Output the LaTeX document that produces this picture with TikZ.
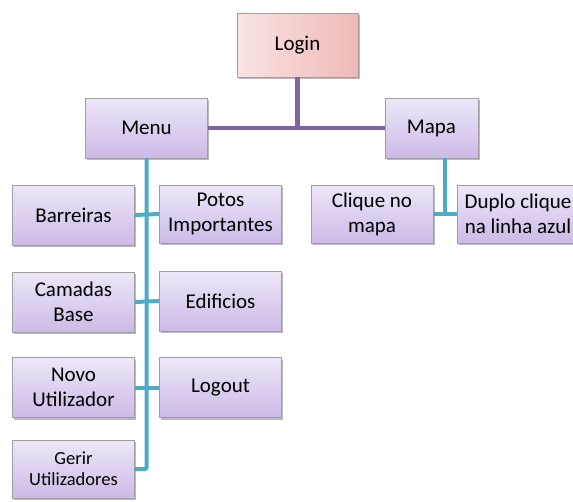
\documentclass[tikz,border=0pt]{standalone}
\usepackage{fontspec}
\setmainfont{Carlito}
\usepackage{xcolor}
\usetikzlibrary{calc,shadows}
\definecolor{menupurple}{HTML}{8064A2}
\definecolor{subteal}{HTML}{4BACC6}
\definecolor{boxtop}{HTML}{EEE7F8}
\definecolor{boxbottom}{HTML}{CCBAE7}
\definecolor{loginleft}{HTML}{FAE4E4}
\definecolor{loginright}{HTML}{F0B8B8}

\begin{document}
\begin{tikzpicture}[
  x=1pt, y=-1pt,
  box/.style={draw=gray!75, line width=0.8pt, align=center, inner sep=0pt,
    minimum width=122pt, minimum height=60pt, top color=boxtop, bottom color=boxbottom,
    drop shadow={shadow xshift=1.5pt, shadow yshift=-2pt, opacity=0.45, fill=black!60},
    font=\fontsize{21}{25}\selectfont},
  rootbox/.style={box, minimum width=121pt, minimum height=64pt, left color=loginleft, right color=loginright},
  mainline/.style={menupurple, line width=4.5pt},
  subline/.style={subteal, line width=4pt, rounded corners=2pt}
]
\useasboundingbox (0,0) rectangle (573,501);

\node[rootbox] (login) at (297.5,45) {Login};
\node[box] (menu) at (146.5,128) {Menu};
\node[box, minimum width=93pt] (mapa) at (431.5,128) {Mapa};

% mapa branch
\node[box, minimum height=58pt] (clique) at (372,214) {Clique no\\mapa};
\node[box, minimum height=58pt] (duplo) at (518,214) {Duplo clique\\na linha azul};

% menu branch
\node[box] (barreiras) at (73.5,215) {Barreiras};
\node[box, minimum height=58pt] (potos) at (220.5,214) {Potos\\Importantes};
\node[box] (camadas) at (73.5,302) {Camadas\\Base};
\node[box] (edificios) at (220.5,301) {Edificios};
\node[box] (novo) at (73.5,387.5) {Novo\\Utilizador};
\node[box] (logout) at (220.5,387.5) {Logout};
\node[box, minimum height=58pt, font=\fontsize{18.5}{21}\selectfont] (gerir) at (73.5,469) {Gerir\\Utilizadores};

\draw[mainline] (login.south) -- (login.south |- menu.east);
\draw[mainline] (menu.east) -- (mapa.west);

\draw[subline] (menu.south) |- (gerir.east);
\draw[subline] (barreiras.east) -- (potos.west);
\draw[subline] (camadas.east) -- (edificios.west);
\draw[subline] (novo.east) -- (logout.west);

\coordinate (mapajoin) at ($(clique.east)!0.5!(duplo.west)$);
\draw[subline] (mapajoin |- mapa.south) -- (mapajoin);
\draw[subline] (clique.east) -- (duplo.west);
\end{tikzpicture}
\end{document}
